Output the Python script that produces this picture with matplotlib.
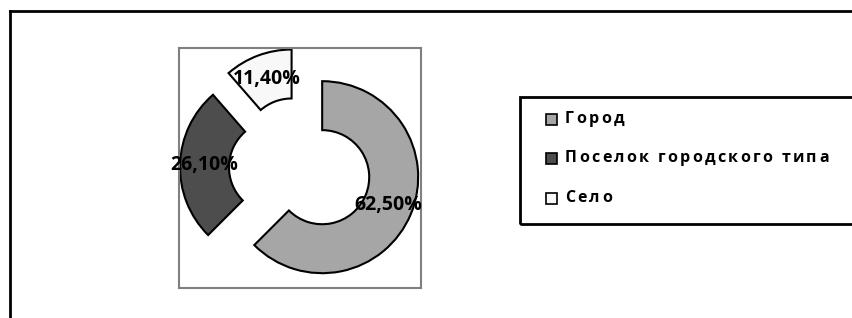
import matplotlib

matplotlib.use("Agg")
import matplotlib.pyplot as plt
from matplotlib.lines import Line2D
from matplotlib.patches import Rectangle

categories = ["Город", "Поселок городского типа", "Село"]
shares = [62.5, 26.1, 11.4]
colors = ["#a6a6a6", "#4d4d4d", "#f8f8f8"]

W, H = 853, 318
FONT = ["Open Sans", "DejaVu Sans"]


def fx(px):
    return px / W


def fy(py):
    return 1 - py / H


fig = plt.figure(figsize=(W / 100, H / 100), dpi=100)
renderer = fig.canvas.get_renderer()


def spaced_text(x, y, s, gap=2.3, **kw):
    # draw text char by char in pixel coords, with extra tracking like the original
    for ch in s:
        t = fig.text(fx(x), fy(y), ch, ha="left", va="center", **kw)
        w = t.get_window_extent(renderer=renderer).width
        if ch == " ":
            w = kw.get("fontsize", 10) * 0.26 * 100 / 72 * 1.0
        x += w + gap


# outer chart frame (cut by the picture at right and bottom)
fig.add_artist(Line2D([fx(10), fx(10)], [fy(11), 0], color="black", lw=2, transform=fig.transFigure))
fig.add_artist(Line2D([fx(10), 1], [fy(11), fy(11)], color="black", lw=2, transform=fig.transFigure))

# plot area
ax = fig.add_axes([fx(179), fy(288), (421 - 179) / W, (288 - 48) / H])
wedges, texts, autotexts = ax.pie(
    shares,
    colors=colors,
    startangle=90,
    counterclock=False,
    explode=[0.25] * len(shares),
    radius=1.0,
    pctdistance=0.745,
    autopct=lambda p: f"{p:.2f}%".replace(".", ","),
    wedgeprops=dict(width=0.51, edgecolor="black", linewidth=1.5),
    textprops=dict(family=FONT, fontweight="bold", fontsize=14, color="black"),
)
ax.set_aspect("auto")
ax.set_xlim(-121 / 96, 121 / 96)
ax.set_ylim(-120 / 96, 120 / 96)
ax.set_frame_on(True)
for s in ax.spines.values():
    s.set_color("#808080")
    s.set_linewidth(1.5)

# legend
fig.add_artist(
    Rectangle((fx(520), fy(224)), 1.0, (224 - 97) / H, fill=False, ec="black", lw=2,
              transform=fig.transFigure)
)
ys = [119, 158, 198]
for y, name, c in zip(ys, categories, colors):
    fig.add_artist(
        Rectangle((fx(546), fy(y + 6)), 11 / W, 11 / H, fc=c, ec="black", lw=1.2,
                  transform=fig.transFigure)
    )
    spaced_text(565, y, name, fontsize=11.5, fontweight="bold", family=FONT)

fig.savefig("out.png", dpi=100)
